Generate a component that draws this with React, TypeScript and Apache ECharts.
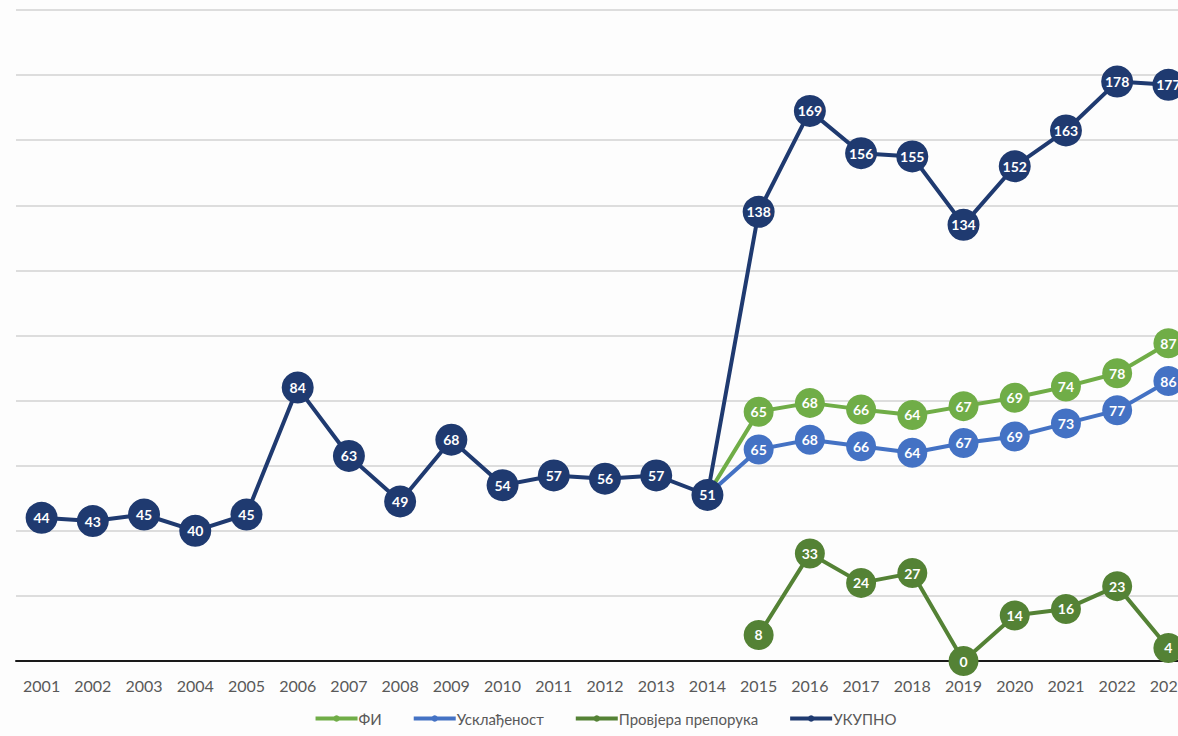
import React, { useEffect, useRef } from "react";
import * as echarts from "echarts";

const years = ["2001","2002","2003","2004","2005","2006","2007","2008","2009","2010","2011","2012","2013","2014","2015","2016","2017","2018","2019","2020","2021","2022","2023"];

// УКУПНО
const ukupno = [44,43,45,40,45,84,63,49,68,54,57,56,57,51,138,169,156,155,134,152,163,178,177];
// ФИ: printed labels and the heights at which the points are drawn in the picture
const fiLabels = [null,null,null,null,null,null,null,null,null,null,null,null,null,51,65,68,66,64,67,69,74,78,87];
const fiPlotted = [null,null,null,null,null,null,null,null,null,null,null,null,null,51,76.6,79.3,77.3,75.6,78.3,80.9,84.3,88.4,97.6];
// Усклађеност
const uskladjenost = [null,null,null,null,null,null,null,null,null,null,null,null,null,51,65,68,66,64,67,69,73,77,86];
// Провјера препорука
const provjera = [null,null,null,null,null,null,null,null,null,null,null,null,null,null,8,33,24,27,0,14,16,23,4];

const C_FI = "#70ad47";
const C_USK = "#4472c4";
const C_PROV = "#548235";
const C_UK = "#1f3a70";

const FONT = "Lato, 'Open Sans', sans-serif";
const START = 13;

export default function App() {
  const ref = useRef<HTMLDivElement>(null);
  useEffect(() => {
    document.body.style.margin = "0";
    document.body.style.overflow = "hidden";
    const chart = echarts.init(ref.current!, undefined, { renderer: "svg" });
    const mkStart = (vals: (number | null)[]) =>
      vals.map((v, i) => {
        if (v === null) return null;
        if (i === START) return { value: v, symbol: "none", label: { show: false } };
        return v;
      });
    const labelCfg = {
      show: true,
      position: "inside",
      color: "#ffffff",
      fontWeight: "bold",
      fontSize: 14,
      fontFamily: FONT,
    };
    const lineSeries = (name: string, color: string, data: any[], z: number, size = 30, extra: any = {}) => ({
      name,
      type: "line",
      data,
      color,
      lineStyle: { width: 4, color },
      symbol: "circle",
      symbolSize: size,
      itemStyle: { color },
      label: labelCfg,
      clip: false,
      z,
      ...extra,
    });
    chart.setOption({
      animation: false,
      backgroundColor: "#fdfdfd",
      grid: { left: 16, right: 16, top: 10, bottom: 75, containLabel: false },
      legend: {
        bottom: 5,
        left: "center",
        itemWidth: 42,
        itemHeight: 8,
        itemGap: 30,
        lineStyle: { width: 4 },
        textStyle: { color: "#595959", fontSize: 15, fontFamily: FONT, padding: [0, 0, 0, -4] },
        data: ["ФИ", "Усклађеност", "Провјера препорука", "УКУПНО"],
      },
      xAxis: {
        type: "category",
        data: years,
        boundaryGap: true,
        axisLine: { show: true, lineStyle: { color: "#1a1a1a", width: 2 } },
        axisTick: { show: false },
        axisLabel: { color: "#595959", fontSize: 16, fontFamily: FONT, margin: 16 },
      },
      yAxis: {
        type: "value",
        min: 0,
        max: 200,
        interval: 20,
        axisLabel: { show: false },
        axisLine: { show: false },
        axisTick: { show: false },
        splitLine: { lineStyle: { color: "#d2d2d2", width: 1.5 } },
      },
      series: [
        lineSeries(
          "ФИ",
          C_FI,
          fiPlotted.map((v, i) => {
            if (v === null) return null;
            if (i === START) return { value: v, symbol: "none", label: { show: false } };
            return v;
          }),
          2,
          30,
          { label: { ...labelCfg, formatter: (p: any) => String(fiLabels[p.dataIndex]) } }
        ),
        lineSeries("Усклађеност", C_USK, mkStart(uskladjenost), 3),
        lineSeries("Провјера препорука", C_PROV, provjera, 4),
        lineSeries("УКУПНО", C_UK, ukupno, 5, 32),
      ],
    });
    return () => chart.dispose();
  }, []);
  return (
    <div style={{ position: "fixed", left: 0, top: 0, width: 1178, height: 736, overflow: "hidden" }}>
      <div ref={ref} style={{ width: 1210, height: 736 }} />
    </div>
  );
}
